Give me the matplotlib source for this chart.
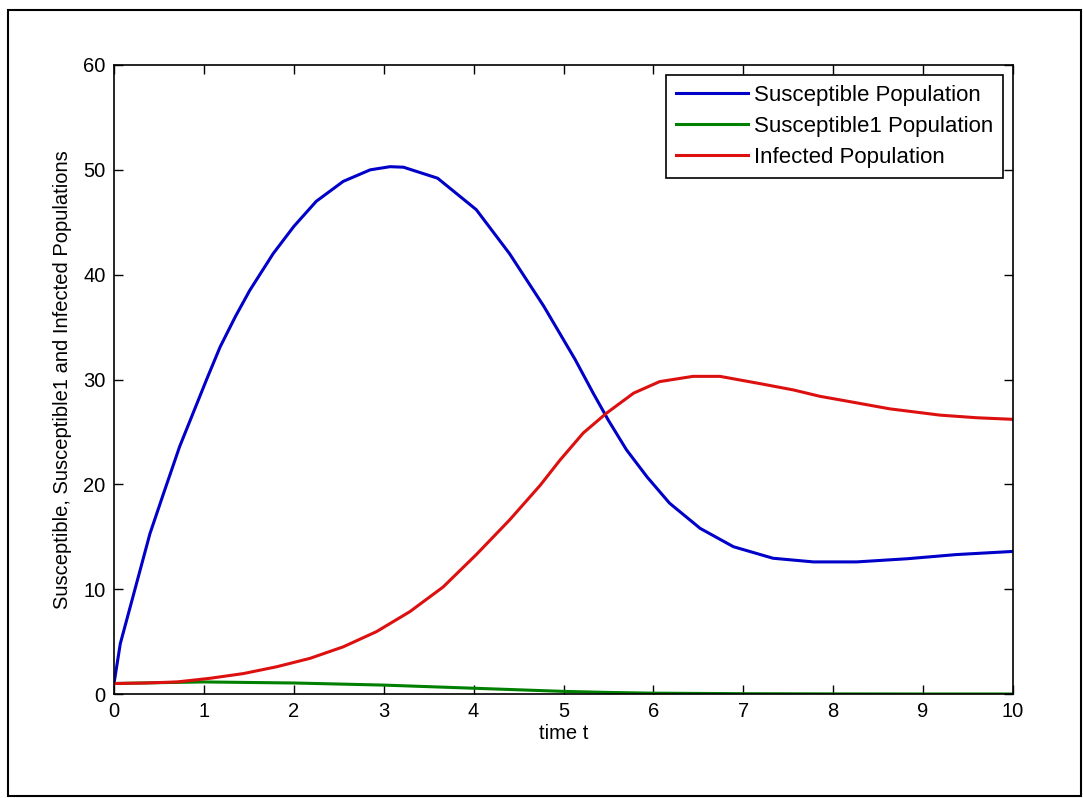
import matplotlib.pyplot as plt
from matplotlib.patches import Rectangle

plt.rcParams['font.family'] = ['Liberation Sans', 'DejaVu Sans']

# values
t_sus = [0, 0.07, 0.18, 0.29, 0.4, 0.55, 0.73, 0.88, 1.03, 1.18, 1.35, 1.51,
         1.77, 2.0, 2.25, 2.55, 2.85, 3.07, 3.22, 3.6, 4.03, 4.4, 4.78, 5.13,
         5.33, 5.5, 5.7, 5.93, 6.18, 6.52, 6.89, 7.33, 7.78, 8.26, 8.82, 9.37, 10]
sus = [1, 4.8, 8.3, 11.8, 15.3, 19.1, 23.6, 26.8, 30.0, 33.1, 36.0, 38.5,
       42.0, 44.6, 47.0, 48.9, 50.0, 50.3, 50.25, 49.2, 46.2, 42.0, 37.0, 31.9,
       28.7, 26.1, 23.3, 20.7, 18.2, 15.8, 14.05, 12.95, 12.6, 12.6, 12.9, 13.3, 13.6]

t_sus1 = [0, 0.5, 1, 1.5, 2, 2.5, 3, 3.5, 4, 4.5, 5, 5.5, 6, 7, 8, 9, 10]
sus1 = [1, 1.08, 1.15, 1.1, 1.05, 0.95, 0.85, 0.7, 0.55, 0.4, 0.25, 0.15,
        0.08, 0.03, 0.01, 0, 0]

t_inf = [0, 0.35, 0.7, 1.07, 1.44, 1.81, 2.18, 2.55, 2.92, 3.29, 3.66, 4.03,
         4.4, 4.74, 4.96, 5.22, 5.48, 5.78, 6.07, 6.44, 6.74, 7.19, 7.56, 7.85,
         8.08, 8.63, 9.19, 9.6, 10]
inf = [1, 1.05, 1.15, 1.5, 1.95, 2.6, 3.4, 4.5, 5.95, 7.85, 10.2, 13.3,
       16.6, 19.9, 22.3, 24.9, 26.8, 28.7, 29.8, 30.3, 30.3, 29.6, 29.0, 28.4,
       28.05, 27.2, 26.6, 26.35, 26.2]

fig = plt.figure(figsize=(10.83, 7.98), dpi=100)
ax = fig.add_axes([114/1083, 1 - 694/798, 899/1083, 629/798])

ax.plot(t_sus, sus, color='#0000c8', lw=2.2, label='Susceptible Population')
ax.plot(t_sus1, sus1, color='#008000', lw=2.2, label='Susceptible1 Population')
ax.plot(t_inf, inf, color='#dd1010', lw=2.2, label='Infected Population')

ax.set_xlim(0, 10)
ax.set_ylim(0, 60)
ax.set_xticks(range(0, 11))
ax.set_yticks(range(0, 61, 10))
ax.tick_params(direction='in', length=6.5, width=1, top=True, right=True,
               labelsize=14.5, pad=6)
for s in ax.spines.values():
    s.set_linewidth(1.2)

ax.set_xlabel('time t', fontsize=14.5, labelpad=2)
ax.set_ylabel('Susceptible, Susceptible1 and Infected Populations', fontsize=14.5, labelpad=8)

leg = ax.legend(loc='upper right', fontsize=16, fancybox=False, edgecolor='black',
                framealpha=1, handlelength=3.2, handletextpad=0.3,
                borderaxespad=0.43, labelspacing=0.45, borderpad=0.45)
leg.get_frame().set_linewidth(1.2)

# outer frame around the whole figure
fig.patches.append(Rectangle((8/1083, 2/798), 1073/1083, 786/798, transform=fig.transFigure,
                             fill=False, edgecolor='black', lw=1.5))

fig.savefig('out.png', dpi=100)
